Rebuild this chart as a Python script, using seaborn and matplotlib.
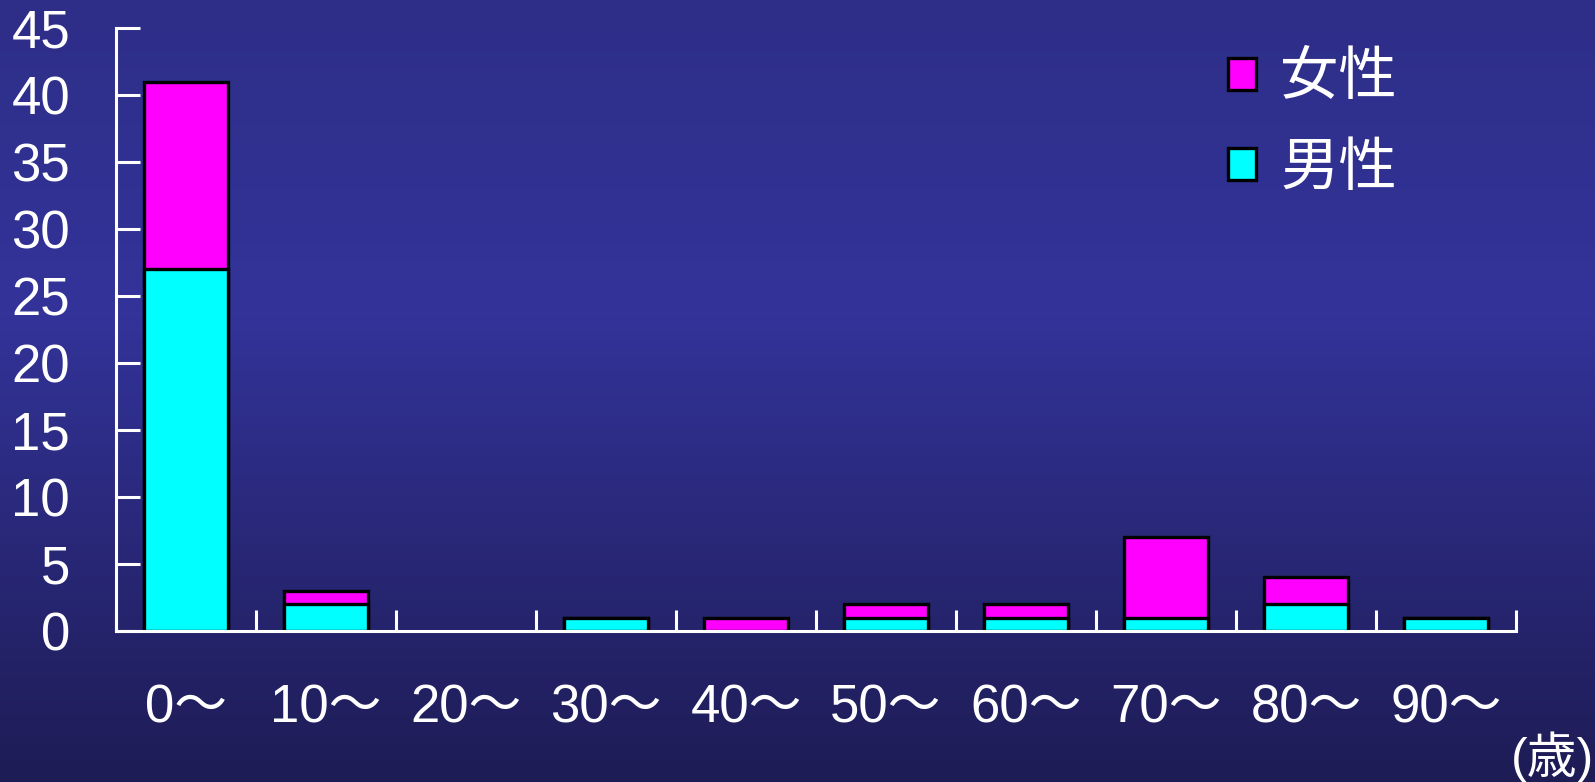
import matplotlib
matplotlib.use("Agg")
import matplotlib.pyplot as plt
import matplotlib.patches as mpatches
from matplotlib.colors import LinearSegmentedColormap
import numpy as np
import pandas as pd
import seaborn as sns

age_groups = ["0～", "10～", "20～", "30～", "40～", "50～", "60～", "70～", "80～", "90～"]
male = [27, 2, 0, 1, 0, 1, 1, 1, 2, 1]
female = [14, 1, 0, 0, 1, 1, 1, 6, 2, 0]

df = pd.DataFrame({"age": age_groups, "male": male, "female": female})
df["total"] = df["male"] + df["female"]

sns.set_theme(style="white")
plt.rcParams["font.family"] = ["Liberation Sans", "Noto Sans CJK JP", "DejaVu Sans"]

fig = plt.figure(figsize=(15.95, 7.82), dpi=100)

# gradient background
bg_ax = fig.add_axes([0, 0, 1, 1], zorder=-1)
bg_cmap = LinearSegmentedColormap.from_list(
    "bg", [(0.0, "#2e2e88"), (0.4, "#33339a"), (1.0, "#1e1c55")])
bg_ax.imshow(np.linspace(0, 1, 256).reshape(-1, 1), aspect="auto",
             cmap=bg_cmap, extent=[0, 1, 0, 1])
bg_ax.axis("off")

ax = fig.add_axes([0.0727, 0.193, 0.8778, 0.771])
ax.set_facecolor("none")

sns.barplot(data=df, x="age", y="total", color="#ff00ff", saturation=1,
            width=0.6, edgecolor="black", linewidth=2.4, ax=ax)
sns.barplot(data=df, x="age", y="male", color="#00ffff", saturation=1,
            width=0.6, edgecolor="black", linewidth=2.4, ax=ax)
# hide zero-height bars
for p in ax.patches:
    if p.get_height() == 0:
        p.set_visible(False)

ax.set_xlim(-0.5, len(age_groups) - 0.5)
ax.set_ylim(0, 45)
ax.set_yticks(range(0, 46, 5))
ax.set_xlabel("")
ax.set_ylabel("")

for side in ["top", "right"]:
    ax.spines[side].set_visible(False)
for side in ["left", "bottom"]:
    ax.spines[side].set_color("white")
    ax.spines[side].set_linewidth(2.2)

ax.tick_params(axis="y", direction="in", length=17, width=2.2, color="white",
               labelcolor="white", labelsize=38, pad=33, left=True)
ax.tick_params(axis="x", which="major", length=0, labelcolor="white",
               labelsize=38, pad=38)
ax.set_xticks(np.arange(-0.5, len(age_groups), 1), minor=True)
ax.tick_params(axis="x", which="minor", direction="in", length=15, width=2.2,
               color="white", bottom=True)

handles = [
    mpatches.Patch(facecolor="#ff00ff", edgecolor="black", linewidth=2.4, label="女性"),
    mpatches.Patch(facecolor="#00ffff", edgecolor="black", linewidth=2.4, label="男性"),
]
leg = ax.legend(handles=handles, loc="upper left", bbox_to_anchor=(0.757, 1.055),
                frameon=False, handlelength=0.47, handleheight=0.47,
                handletextpad=0.42, labelspacing=0.5,
                prop={"family": ["Noto Sans CJK JP"], "size": 42})
for t in leg.get_texts():
    t.set_color("white")

fig.text(1594 / 1595, 1 - 757 / 782, "(歳)", ha="right", va="center",
         color="white", fontsize=36)

fig.savefig("out.png", dpi=100)
